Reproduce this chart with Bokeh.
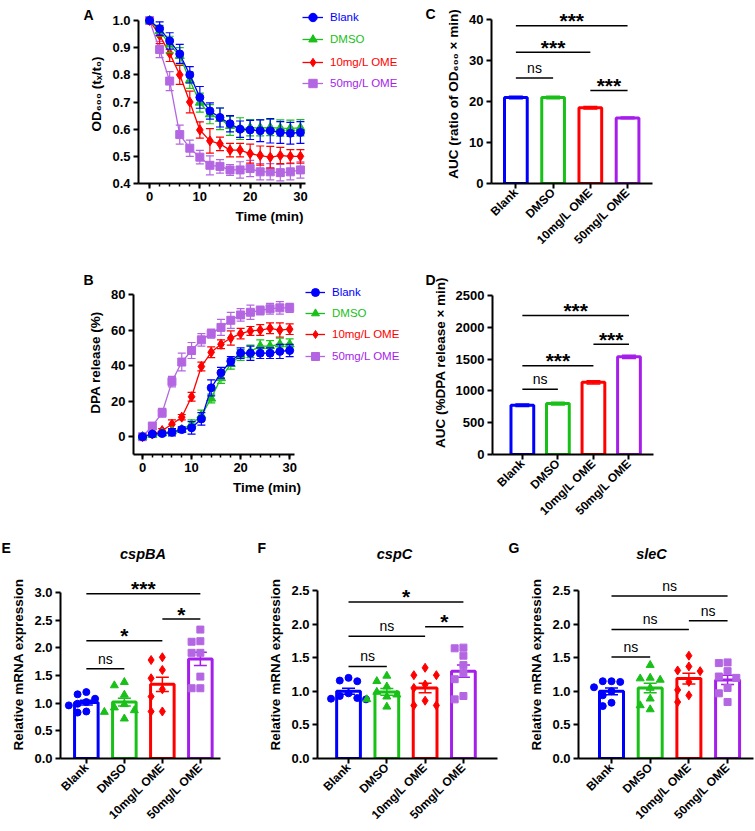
import math
from bokeh.plotting import figure
from bokeh.layouts import column, row
from bokeh.models import (Legend, LegendItem, Label, FixedTicker, Range1d,
                          NumeralTickFormatter, GridBox)
from bokeh.embed import file_html
from bokeh.resources import INLINE

# ---------------- data ----------------
groups = ["Blank", "DMSO", "10mg/L OME", "50mg/L OME"]
times = [0, 2, 4, 6, 8, 10, 12, 14, 16, 18, 20, 22, 24, 26, 28, 30]

od_blank = [1.000, 0.970, 0.925, 0.877, 0.800, 0.717, 0.667, 0.643, 0.620, 0.600, 0.597, 0.594, 0.594, 0.588, 0.585, 0.588]
od_dmso = [1.000, 0.962, 0.912, 0.870, 0.780, 0.698, 0.655, 0.638, 0.612, 0.602, 0.605, 0.605, 0.606, 0.604, 0.603, 0.605]
od_10 = [1.000, 0.945, 0.879, 0.800, 0.700, 0.597, 0.557, 0.546, 0.523, 0.523, 0.510, 0.503, 0.497, 0.503, 0.500, 0.500]
od_50 = [1.000, 0.893, 0.777, 0.580, 0.530, 0.497, 0.467, 0.463, 0.450, 0.450, 0.455, 0.443, 0.443, 0.440, 0.443, 0.450]
od_blank_err = [0.0, 0.025, 0.030, 0.035, 0.030, 0.040, 0.030, 0.035, 0.030, 0.030, 0.035, 0.040, 0.045, 0.040, 0.040, 0.040]
od_dmso_err = [0.0, 0.020, 0.030, 0.030, 0.030, 0.035, 0.035, 0.040, 0.035, 0.040, 0.030, 0.030, 0.030, 0.030, 0.030, 0.030]
od_10_err = [0.0, 0.030, 0.030, 0.035, 0.040, 0.030, 0.045, 0.025, 0.025, 0.025, 0.035, 0.035, 0.040, 0.030, 0.025, 0.025]
od_50_err = [0.0, 0.030, 0.035, 0.035, 0.030, 0.025, 0.035, 0.025, 0.020, 0.030, 0.030, 0.030, 0.030, 0.030, 0.030, 0.030]

dpa_blank = [0.0, 1.5, 1.8, 2.5, 4.0, 5.0, 10.0, 27.5, 36.0, 42.5, 47.0, 47.0, 47.0, 47.0, 48.0, 48.5]
dpa_dmso = [0.0, 1.0, 2.0, 3.0, 4.0, 7.0, 12.0, 21.5, 33.0, 41.0, 46.0, 48.0, 51.0, 51.0, 52.0, 52.0]
dpa_10 = [0.0, 1.5, 3.5, 7.0, 11.0, 22.5, 39.5, 47.5, 52.0, 55.5, 58.0, 59.5, 60.0, 61.0, 60.0, 60.5]
dpa_50 = [0.0, 6.0, 13.5, 31.0, 42.0, 48.5, 54.5, 58.0, 61.5, 65.5, 68.5, 70.0, 71.0, 72.0, 72.5, 72.5]
dpa_blank_err = [0.5, 1.0, 1.0, 2.0, 1.5, 3.5, 3.5, 4.5, 3.0, 2.5, 3.0, 4.0, 3.0, 3.0, 4.0, 3.5]
dpa_dmso_err = [0.5, 1.0, 1.0, 1.0, 1.0, 2.5, 3.0, 2.5, 3.0, 3.0, 3.0, 3.5, 3.5, 3.0, 3.5, 3.0]
dpa_10_err = [0.5, 0.8, 1.0, 2.5, 1.5, 2.5, 2.5, 3.0, 2.5, 4.0, 3.0, 2.5, 3.0, 3.0, 4.0, 3.0]
dpa_50_err = [0.5, 1.0, 2.5, 3.0, 5.0, 4.5, 3.5, 2.5, 4.5, 4.5, 3.5, 4.0, 2.5, 3.0, 3.5, 2.5]

auc_od_mean = [21.0, 21.0, 18.5, 16.0]
auc_od_err = [0.3, 0.3, 0.3, 0.2]
auc_dpa_mean = [775, 800, 1135, 1535]
auc_dpa_err = [20, 20, 25, 25]

cspba_blank = [1.20, 1.16, 1.08, 1.02, 0.99, 0.96, 0.85, 0.83]
cspba_dmso = [1.38, 1.32, 1.15, 0.98, 0.92, 0.87, 0.84, 0.72]
cspba_10 = [1.83, 1.78, 1.60, 1.45, 1.25, 1.12, 0.85, 0.85]
cspba_50 = [2.33, 2.12, 2.11, 1.91, 1.91, 1.48, 1.27, 1.27]
cspba_mean = [1.01, 1.02, 1.34, 1.80]
cspba_sem = [0.045, 0.07, 0.13, 0.12]

cspc_blank = [1.20, 1.16, 1.15, 0.97, 0.93, 0.90, 0.89, 0.88]
cspc_dmso = [1.23, 1.15, 1.07, 0.99, 0.95, 0.92, 0.88, 0.77]
cspc_10 = [1.35, 1.24, 1.24, 1.10, 1.05, 0.86, 0.79, 0.79]
cspc_50 = [1.65, 1.64, 1.53, 1.39, 1.27, 1.18, 0.93, 0.88]
cspc_mean = [1.00, 0.99, 1.05, 1.30]
cspc_sem = [0.045, 0.05, 0.07, 0.09]

slec_blank = [1.15, 1.15, 1.14, 1.06, 1.00, 0.94, 0.83, 0.78]
slec_dmso = [1.39, 1.20, 1.19, 1.17, 1.05, 0.89, 0.79, 0.73]
slec_10 = [1.53, 1.37, 1.31, 1.30, 1.14, 1.02, 0.94, 0.84]
slec_50 = [1.43, 1.42, 1.30, 1.22, 1.20, 1.05, 0.97, 0.84]
slec_mean = [1.00, 1.05, 1.19, 1.17]
slec_sem = [0.05, 0.07, 0.08, 0.07]

# significance brackets: (group i, group j, height, text)
sig_c = [(1, 2, 25.75, "ns"), (1, 3, 32.0, "***"), (1, 4, 38.5, "***"), (3, 4, 22.7, "***")]
sig_d = [(1, 2, 1024, "ns"), (1, 3, 1395, "***"), (3, 4, 1735, "***"), (1, 4, 2187, "***")]
sig_e = [(1, 2, 1.62, "ns"), (1, 3, 2.13, "*"), (3, 4, 2.52, "*"), (1, 4, 2.98, "***")]
sig_f = [(1, 2, 1.37, "ns"), (1, 3, 1.82, "ns"), (3, 4, 1.96, "*"), (1, 4, 2.33, "*")]
sig_g = [(1, 2, 1.51, "ns"), (1, 3, 1.92, "ns"), (3, 4, 2.05, "ns"), (1, 4, 2.42, "ns")]

time_ticks = [0, 10, 20, 30]
time_minor = [0, 2, 4, 6, 8, 10, 12, 14, 16, 18, 20, 22, 24, 26, 28, 30]
od_ticks = [0.4, 0.5, 0.6, 0.7, 0.8, 0.9, 1.0]
dpa_ticks = [0, 20, 40, 60, 80]
auc_od_ticks = [0, 10, 20, 30, 40]
auc_dpa_ticks = [0, 500, 1000, 1500, 2000, 2500]
e_ticks = [0.0, 0.5, 1.0, 1.5, 2.0, 2.5, 3.0]
fg_ticks = [0.0, 0.5, 1.0, 1.5, 2.0, 2.5]

panel_letters = ["A", "B", "C", "D", "E", "F", "G"]
gene_titles = ["cspBA", "cspC", "sleC"]

# ---------------- style ----------------
FONT = "Liberation Sans"
C_BLUE = "#0000FF"
C_GREEN = "#18C018"
C_RED = "#FF0000"
C_PURPLE = "#A61EEB"
C_LAV = "#B466E2"
LINE_COLORS = [C_BLUE, C_GREEN, C_RED, C_LAV]
BAR_COLORS = [C_BLUE, C_GREEN, C_RED, C_PURPLE]
TEXT_COLORS = [C_BLUE, C_GREEN, C_RED, C_PURPLE]
MARKERS = ["circle", "triangle", "diamond", "square"]
TS_SIZE = [8, 9, 10, 8]
PT_SIZE = [7, 8, 9, 7]
CATS = [1, 2, 3, 4]
TOTAL_W, TOTAL_H = 755, 830


def make_fig(wx, wy, w, h, fl, fr, ft, fb, xr, yr, xb=None, yb=None):
    p = figure(width=w, height=h, x_range=Range1d(*xr), y_range=Range1d(*yr),
               output_backend="svg", toolbar_location=None,
               min_border_left=fl - wx, min_border_right=wx + w - fr,
               min_border_top=ft - wy, min_border_bottom=wy + h - fb)
    p.outline_line_color = None
    p.grid.visible = False
    p.background_fill_color = "white"
    p.border_fill_color = "white"
    for ax in p.axis:
        ax.axis_line_width = 2
        ax.axis_line_color = "black"
        ax.major_tick_line_width = 2
        ax.major_tick_out = 5
        ax.major_tick_in = 0
        ax.minor_tick_line_color = None
        ax.major_label_text_font = FONT
        ax.major_label_text_font_style = "bold"
        ax.major_label_text_font_size = "13px"
        ax.major_label_text_color = "black"
        ax.major_label_standoff = 3
        ax.axis_label_text_font = FONT
        ax.axis_label_text_font_style = "bold"
        ax.axis_label_text_font_size = "13.5px"
        ax.axis_label_text_color = "black"
        ax.axis_label_standoff = 5
    if xb is not None:
        p.xaxis.bounds = xb
    if yb is not None:
        p.yaxis.bounds = yb
    return p


def time_panel(p, series, errs, ylabel, yticks, fmt):
    p.xaxis.ticker = FixedTicker(ticks=time_ticks, minor_ticks=time_minor)
    p.xaxis.minor_tick_line_color = "black"
    p.xaxis.minor_tick_line_width = 1.5
    p.xaxis.minor_tick_out = 3
    p.xaxis.minor_tick_in = 0
    p.xaxis.axis_label = "Time (min)"
    p.yaxis.ticker = FixedTicker(ticks=yticks)
    if fmt:
        p.yaxis.formatter = NumeralTickFormatter(format=fmt)
    p.yaxis.axis_label = ylabel
    rends = [None] * 4
    for k in [3, 2, 1, 0]:
        m, e, c = series[k], errs[k], LINE_COLORS[k]
        lo = [a - b for a, b in zip(m, e)]
        hi = [a + b for a, b in zip(m, e)]
        p.segment(x0=times, y0=lo, x1=times, y1=hi, line_color=c, line_width=1.2)
        p.scatter(times, hi, marker="dash", size=8, line_color=c, line_width=1.2)
        p.scatter(times, lo, marker="dash", size=8, line_color=c, line_width=1.2)
        lr = p.line(times, m, line_color=c, line_width=1.3)
        sr = p.scatter(times, m, marker=MARKERS[k], size=TS_SIZE[k], fill_color=c, line_color=c)
        rends[k] = (lr, sr)
    return rends


def add_legends(p, rends, x, ys, gw):
    for k in range(4):
        lg = Legend(items=[LegendItem(label=groups[k], renderers=list(rends[k]))],
                    location=(x, ys[k]), padding=0, margin=0, spacing=0,
                    border_line_color=None, background_fill_alpha=0,
                    glyph_width=gw, glyph_height=22, label_height=22, label_standoff=7,
                    label_text_color=TEXT_COLORS[k], label_text_font=FONT,
                    label_text_font_size="11.5px")
        p.add_layout(lg)


def swarm_offsets(vals, x_ppu, y_ppu, diam):
    order = sorted(range(len(vals)), key=lambda i: -vals[i])
    placed = []
    offs = [0.0] * len(vals)
    step = diam * 1.25
    for i in order:
        yi = vals[i] * y_ppu
        dx = 0.0
        for k in [0, -1, 1, -2, 2]:
            dx = k * step
            if all((dx - pdx) ** 2 + (yi - py) ** 2 >= (diam * 1.05) ** 2 for pdx, py in placed):
                break
        placed.append((dx, yi))
        offs[i] = dx / x_ppu
    return offs


def bar_panel(p, means, errs, ylabel, yticks, fmt, cap, bw, points=None, ppu=None):
    p.xaxis.ticker = FixedTicker(ticks=CATS)
    p.xaxis.major_label_overrides = {c: g for c, g in zip(CATS, groups)}
    p.xaxis.major_label_orientation = math.pi / 4
    p.xaxis.major_label_text_font_size = "12px"
    p.xaxis.major_label_standoff = 2
    p.yaxis.ticker = FixedTicker(ticks=yticks)
    if fmt:
        p.yaxis.formatter = NumeralTickFormatter(format=fmt)
    p.yaxis.axis_label = ylabel
    p.vbar(x=CATS, top=means, bottom=0, width=bw, fill_color="white",
           line_color=BAR_COLORS, line_width=3)
    lo = [a - b for a, b in zip(means, errs)]
    hi = [a + b for a, b in zip(means, errs)]
    p.segment(x0=CATS, y0=lo, x1=CATS, y1=hi, line_color=BAR_COLORS, line_width=1.5)
    p.scatter(CATS, hi, marker="dash", size=cap, line_color=BAR_COLORS, line_width=1.5)
    p.scatter(CATS, lo, marker="dash", size=cap, line_color=BAR_COLORS, line_width=1.5)
    if points is not None:
        for k in range(4):
            offs = swarm_offsets(points[k], ppu[0], ppu[1], PT_SIZE[k])
            xs = [CATS[k] + o for o in offs]
            c = C_LAV if k == 3 else BAR_COLORS[k]
            p.scatter(xs, points[k], marker=MARKERS[k], size=PT_SIZE[k], fill_color=c, line_color=c)


def sig_panel(p, sigs):
    for i, j, yv, txt in sigs:
        p.segment(x0=[i], y0=[yv], x1=[j], y1=[yv], line_color="black", line_width=1.5)
        if txt == "ns":
            p.add_layout(Label(x=(i + j) / 2, y=yv, text=txt, text_align="center",
                               text_baseline="alphabetic", y_offset=10, text_font=FONT,
                               text_font_size="14px", text_color="black"))
        else:
            p.add_layout(Label(x=(i + j) / 2, y=yv, text=txt, text_align="center",
                               text_baseline="alphabetic", y_offset=5, text_font=FONT,
                               text_font_size="21px", text_font_style="bold", text_color="black"))


# Frames in one row share their top and bottom edges, so each row uses common
# frame edges; ranges are extended and axis bounds limit the drawn axes.

# ---------------- row 1: panels A and C ----------------
pA = make_fig(0, 0, 400, 257, 138, 400, 4, 183, (-2.2, 49.9), (0.4, 1.0589),
              xb=(-2.2, 31), yb=(0.4, 1.0))
rA = time_panel(pA, [od_blank, od_dmso, od_10, od_50], [od_blank_err, od_dmso_err, od_10_err, od_50_err],
                "OD\u2086\u2080\u2080 (t\u2093/t\u2080)", od_ticks, "0.0")
add_legends(pA, rA, 164, [155, 133, 110, 89], 21)

pC = make_fig(400, 0, 355, 257, 491, 652, 4, 183, (0.345, 4.67), (0, 43.66), yb=(0, 40))
bar_panel(pC, auc_od_mean, auc_od_err, "AUC (ratio of OD\u2086\u2080\u2080 \u00d7 min)", auc_od_ticks, None, 14, 0.61)
sig_panel(pC, sig_c)

# ---------------- row 2: panels B and D ----------------
pB = make_fig(0, 257, 400, 275, 133, 400, 270, 454, (-1.84, 52.6), (-10, 93.5),
              xb=(-1.84, 31), yb=(-10, 80))
rB = time_panel(pB, [dpa_blank, dpa_dmso, dpa_10, dpa_50], [dpa_blank_err, dpa_dmso_err, dpa_10_err, dpa_50_err],
                "DPA release (%)", dpa_ticks, None)
add_legends(pB, rB, 172, [151, 130, 109, 87], 20)

pD = make_fig(400, 257, 355, 275, 492, 653, 270, 454, (0.16, 4.69), (0, 2893), yb=(0, 2500))
bar_panel(pD, auc_dpa_mean, auc_dpa_err, "AUC (%DPA release \u00d7 min)", auc_dpa_ticks, None, 14, 0.64)
sig_panel(pD, sig_d)

# ---------------- row 3: panels E, F, G ----------------
pE = make_fig(0, 532, 258, 298, 60, 220, 570, 758, (0.32, 4.53), (0, 3.398), yb=(0, 3.0))
bar_panel(pE, cspba_mean, cspba_sem, "Relative mRNA expression", e_ticks, "0.0", 13, 0.62,
          [cspba_blank, cspba_dmso, cspba_10, cspba_50], (160 / 4.21, 166 / 3.0))
sig_panel(pE, sig_e)

pF = make_fig(258, 532, 250, 298, 317, 497, 570, 758, (0.19, 4.89), (0, 2.798), yb=(0, 2.5))
bar_panel(pF, cspc_mean, cspc_sem, "Relative mRNA expression", fg_ticks, "0.0", 13, 0.62,
          [cspc_blank, cspc_dmso, cspc_10, cspc_50], (180 / 4.7, 168 / 2.5))
sig_panel(pF, sig_f)

pG = make_fig(508, 532, 247, 298, 578, 753, 570, 758, (0.147, 4.67), (0, 2.798), yb=(0, 2.5))
bar_panel(pG, slec_mean, slec_sem, "Relative mRNA expression", fg_ticks, "0.0", 13, 0.62,
          [slec_blank, slec_dmso, slec_10, slec_50], (175 / 4.52, 168 / 2.5))
sig_panel(pG, sig_g)

main = column(row(pA, pC), row(pB, pD), row(pE, pF, pG))

# ---------------- transparent overlay for panel letters and gene titles ----------------
ov = figure(width=TOTAL_W, height=TOTAL_H, x_range=Range1d(0, TOTAL_W), y_range=Range1d(TOTAL_H, 0),
            output_backend="svg", toolbar_location=None, x_axis_location=None, y_axis_location=None,
            min_border=0)
ov.outline_line_color = None
ov.grid.visible = False
ov.background_fill_alpha = 0
ov.border_fill_alpha = 0

letter_pos = [(83, 14), (83, 279.5), (425, 13.5), (425, 279.5), (1, 547), (257, 547), (508, 547)]
for t, (lx, ly) in zip(panel_letters, letter_pos):
    ov.add_layout(Label(x=lx, y=ly, text=t, text_font=FONT, text_font_size="14px",
                        text_font_style="bold", text_baseline="alphabetic", text_align="left",
                        text_color="black"))
gene_pos = [(142.5, 553), (394, 553), (651, 553)]
for t, (gx, gy) in zip(gene_titles, gene_pos):
    ov.add_layout(Label(x=gx, y=gy, text=t, text_font=FONT, text_font_size="14.5px",
                        text_font_style="bold italic", text_baseline="alphabetic", text_align="center",
                        text_color="black"))

page = GridBox(children=[(main, 0, 0), (ov, 0, 0)])
open("out.html", "w").write(file_html(page, INLINE))
